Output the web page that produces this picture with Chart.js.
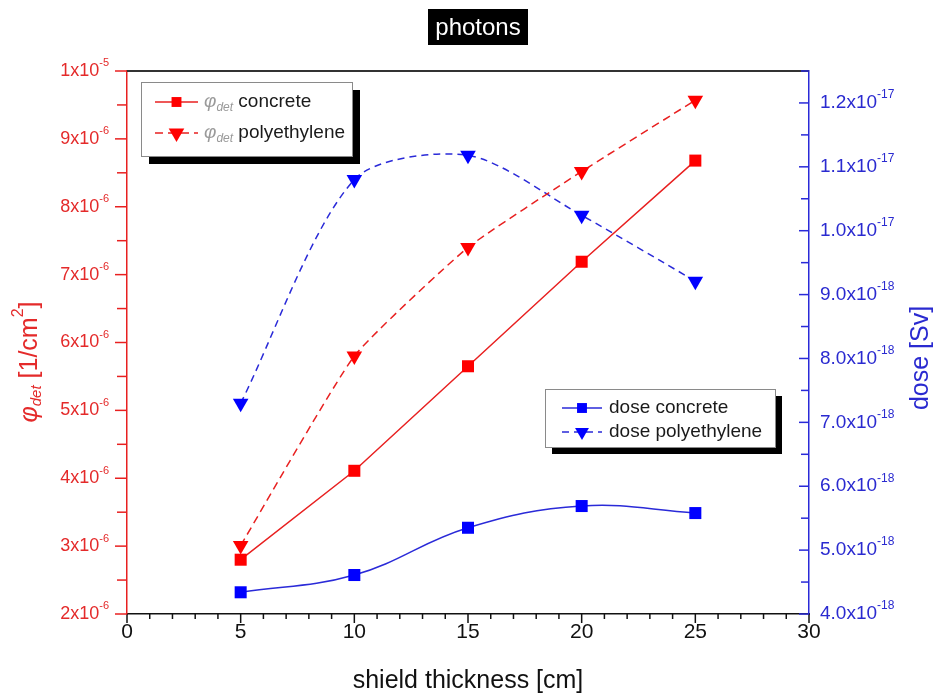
<!DOCTYPE html>
<html>
<head>
<meta charset="utf-8">
<title>photons</title>
<script src="https://cdn.jsdelivr.net/npm/chart.js@4.4.1/dist/chart.umd.min.js"></script>
<style>
  html, body { margin: 0; padding: 0; background: #fff; }
  canvas { display: block; }
</style>
</head>
<body>
<canvas id="myChart" width="939" height="695"></canvas>
<script>
// shield thickness [cm]
const thickness = [5, 10, 15, 20, 25];
// fluence at the detector, units of 1e-6 1/cm^2
const phiConcrete = [2.80, 4.11, 5.65, 7.19, 8.68];
const phiPolyethylene = [3.01, 5.80, 7.40, 8.52, 9.57];
// dose, units of 1e-18 Sv
const doseConcrete = [4.34, 4.61, 5.35, 5.69, 5.58];
const dosePolyethylene = [7.30, 10.80, 11.18, 10.24, 9.21];

// axis ticks (same units as above)
const phiTicks = [2, 3, 4, 5, 6, 7, 8, 9, 10];
const phiTickLabels = ['2x10^-6', '3x10^-6', '4x10^-6', '5x10^-6', '6x10^-6', '7x10^-6', '8x10^-6', '9x10^-6', '1x10^-5'];
const doseTicks = [4, 5, 6, 7, 8, 9, 10, 11, 12];
const doseTickLabels = ['4.0x10^-18', '5.0x10^-18', '6.0x10^-18', '7.0x10^-18', '8.0x10^-18', '9.0x10^-18', '1.0x10^-17', '1.1x10^-17', '1.2x10^-17'];

const FONT = '"Liberation Sans", Arial, sans-serif';
const RED = '#ff0000';
const RED_LINE = '#e82020';
const RED_TEXT = '#e42a2a';
const BLUE = '#0000ff';
const BLUE_LINE = '#2a2ad8';
const BLUE_TEXT = '#2a2ad0';

function toPoints(ys) {
  return thickness.map((x, i) => ({ x: x, y: ys[i] }));
}

function line(ctx, x1, y1, x2, y2) {
  ctx.beginPath();
  ctx.moveTo(x1, y1);
  ctx.lineTo(x2, y2);
  ctx.stroke();
}

function marker(ctx, style, x, y, r, color) {
  ctx.fillStyle = color;
  ctx.beginPath();
  if (style === 'rect') {
    const s = r * Math.SQRT1_2;
    ctx.rect(x - s, y - s, 2 * s, 2 * s);
  } else {
    ctx.moveTo(x - r * 0.866, y - r / 2);
    ctx.lineTo(x + r * 0.866, y - r / 2);
    ctx.lineTo(x, y + r);
    ctx.closePath();
  }
  ctx.fill();
}

// text made of pieces with their own size / italic / vertical shift
function richWidth(ctx, parts) {
  let w = 0;
  parts.forEach(p => {
    ctx.font = (p.italic ? 'italic ' : '') + p.size + 'px ' + FONT;
    w += ctx.measureText(p.t).width;
  });
  return w;
}

function drawRich(ctx, parts, x, y, color) {
  ctx.textAlign = 'left';
  ctx.textBaseline = 'middle';
  parts.forEach(p => {
    ctx.font = (p.italic ? 'italic ' : '') + p.size + 'px ' + FONT;
    ctx.fillStyle = p.color || color;
    ctx.fillText(p.t, x, y + (p.dy || 0));
    x += ctx.measureText(p.t).width;
  });
}

function powerParts(label, size) {
  const [base, exp] = label.split('^');
  return [{ t: base, size: size }, { t: exp, size: Math.round(size * 0.62), dy: -size * 0.42 }];
}

function drawLegend(ctx, chart, box, rows) {
  ctx.fillStyle = '#000';
  ctx.fillRect(box.x + box.shadow, box.y + box.shadow, box.w, box.h);
  ctx.fillStyle = '#fff';
  ctx.fillRect(box.x, box.y, box.w, box.h);
  ctx.strokeStyle = '#8a8a8a';
  ctx.lineWidth = 1;
  ctx.strokeRect(box.x + 0.5, box.y + 0.5, box.w, box.h);
  rows.forEach(row => {
    const ds = chart.data.datasets[row.dataset];
    ctx.strokeStyle = ds.borderColor;
    ctx.lineWidth = 1.5;
    ctx.setLineDash(ds.borderDash || []);
    line(ctx, row.x1, row.y, row.x2, row.y);
    ctx.setLineDash([]);
    marker(ctx, ds.pointStyle, (row.x1 + row.x2) / 2, row.y, row.r, ds.pointBackgroundColor);
    drawRich(ctx, row.text, row.tx, row.y, '#1a1a1a');
  });
}

const decor = {
  id: 'decor',
  afterDraw(chart) {
    const ctx = chart.ctx;
    const a = chart.chartArea;
    const x = chart.scales.x;
    const yPhi = chart.scales.yPhi;
    const yDose = chart.scales.yDose;
    ctx.save();

    // top frame
    ctx.strokeStyle = '#333';
    ctx.lineWidth = 2;
    line(ctx, a.left, a.top, a.right, a.top);

    // x ticks, major every 5, minor every 1
    ctx.strokeStyle = '#111';
    ctx.lineWidth = 1.5;
    for (let v = x.min; v <= x.max; v++) {
      const px = x.getPixelForValue(v);
      line(ctx, px, a.bottom, px, a.bottom + (v % 5 ? 5 : 9));
    }

    // left axis ticks and labels
    ctx.strokeStyle = RED_LINE;
    for (let v = yPhi.min; v <= yPhi.max + 1e-9; v += 0.5) {
      const py = yPhi.getPixelForValue(v);
      line(ctx, a.left - (v % 1 ? 10 : 12), py, a.left, py);
    }
    phiTicks.forEach((v, i) => {
      const parts = powerParts(phiTickLabels[i], 18);
      const w = richWidth(ctx, parts);
      drawRich(ctx, parts, a.left - 18 - w, yPhi.getPixelForValue(v), RED_TEXT);
    });

    // right axis ticks (inward) and labels
    ctx.strokeStyle = BLUE_LINE;
    for (let v = yDose.min; v <= yDose.max + 1e-9; v += 0.5) {
      const py = yDose.getPixelForValue(v);
      line(ctx, a.right - (v % 1 ? 8 : 10), py, a.right, py);
    }
    doseTicks.forEach((v, i) => {
      drawRich(ctx, powerParts(doseTickLabels[i], 19), a.right + 11, yDose.getPixelForValue(v), BLUE_TEXT);
    });

    // axis titles, both reading bottom to top
    const phiTitle = [
      { t: '\u03c6', size: 25, italic: true },
      { t: 'det', size: 15, italic: true, dy: 7 },
      { t: ' [1/cm', size: 25 },
      { t: '2', size: 16, dy: -11 },
      { t: ']', size: 25 }
    ];
    ctx.save();
    ctx.translate(30, 362);
    ctx.rotate(-Math.PI / 2);
    drawRich(ctx, phiTitle, -richWidth(ctx, phiTitle) / 2, 0, RED_TEXT);
    ctx.restore();

    const doseTitle = [{ t: 'dose [Sv]', size: 25 }];
    ctx.save();
    ctx.translate(921, 358);
    ctx.rotate(-Math.PI / 2);
    drawRich(ctx, doseTitle, -richWidth(ctx, doseTitle) / 2, 0, BLUE_TEXT);
    ctx.restore();

    // x axis title
    ctx.fillStyle = '#111';
    ctx.font = '25px ' + FONT;
    ctx.textAlign = 'center';
    ctx.textBaseline = 'middle';
    ctx.fillText('shield thickness [cm]', 468, 681);

    // title
    ctx.fillStyle = '#000';
    ctx.fillRect(428, 9, 100, 36);
    ctx.fillStyle = '#fff';
    ctx.font = '24px ' + FONT;
    ctx.fillText('photons', 478, 28);

    // legends
    const phiSub = (name) => [
      { t: '\u03c6', size: 19, italic: true, color: '#9a9a9a' },
      { t: 'det', size: 12, italic: true, dy: 6, color: '#9a9a9a' },
      { t: ' ' + name, size: 19 }
    ];
    drawLegend(ctx, chart, { x: 141, y: 82, w: 211, h: 74, shadow: 8 }, [
      { dataset: 0, x1: 155, x2: 198, y: 102, r: 7, tx: 204, text: phiSub('concrete') },
      { dataset: 1, x1: 155, x2: 198, y: 133, r: 9, tx: 204, text: phiSub('polyethylene') }
    ]);
    drawLegend(ctx, chart, { x: 545, y: 389, w: 230, h: 58, shadow: 7 }, [
      { dataset: 2, x1: 562, x2: 602, y: 408, r: 7, tx: 609, text: [{ t: 'dose concrete', size: 19 }] },
      { dataset: 3, x1: 562, x2: 602, y: 432, r: 8, tx: 609, text: [{ t: 'dose polyethylene', size: 19 }] }
    ]);

    ctx.restore();
  }
};

const ctx = document.getElementById('myChart').getContext('2d');
const chart = new Chart(ctx, {
  type: 'line',
  data: {
    datasets: [
      {
        label: 'phi_det concrete',
        data: toPoints(phiConcrete),
        yAxisID: 'yPhi',
        borderColor: RED_LINE,
        borderWidth: 1.5,
        pointStyle: 'rect',
        pointRadius: 8.5,
        pointBackgroundColor: RED,
        pointBorderWidth: 0,
        tension: 0
      },
      {
        label: 'phi_det polyethylene',
        data: toPoints(phiPolyethylene),
        yAxisID: 'yPhi',
        borderColor: RED_LINE,
        borderWidth: 1.5,
        borderDash: [8, 5],
        pointStyle: 'triangle',
        pointRotation: 180,
        pointRadius: 9,
        pointBackgroundColor: RED,
        pointBorderWidth: 0,
        tension: 0.15
      },
      {
        label: 'dose concrete',
        data: toPoints(doseConcrete),
        yAxisID: 'yDose',
        borderColor: BLUE_LINE,
        borderWidth: 1.5,
        pointStyle: 'rect',
        pointRadius: 8.5,
        pointBackgroundColor: BLUE,
        pointBorderWidth: 0,
        tension: 0.4
      },
      {
        label: 'dose polyethylene',
        data: toPoints(dosePolyethylene),
        yAxisID: 'yDose',
        borderColor: BLUE_LINE,
        borderWidth: 1.5,
        borderDash: [7, 5],
        pointStyle: 'triangle',
        pointRotation: 180,
        pointRadius: 9,
        pointBackgroundColor: BLUE,
        pointBorderWidth: 0,
        tension: 0.28
      }
    ]
  },
  options: {
    responsive: false,
    animation: false,
    layout: { padding: { top: 71, left: 0, right: 0, bottom: 0 } },
    plugins: {
      legend: { display: false },
      tooltip: { enabled: false }
    },
    scales: {
      x: {
        type: 'linear',
        min: 0,
        max: 30,
        ticks: {
          stepSize: 5,
          padding: 6,
          color: '#111',
          font: { family: FONT, size: 21 }
        },
        grid: { display: false, drawTicks: false },
        border: { color: '#111', width: 1.5 },
        afterFit: (scale) => { scale.height = 81; }
      },
      yPhi: {
        type: 'linear',
        position: 'left',
        min: 2,
        max: 10,
        ticks: { display: false },
        grid: { display: false, drawTicks: false },
        border: { color: RED_LINE, width: 1.5 },
        afterFit: (scale) => { scale.width = 127; }
      },
      yDose: {
        type: 'linear',
        position: 'right',
        min: 4,
        max: 12.5,
        ticks: { display: false },
        grid: { display: false, drawTicks: false },
        border: { color: BLUE_LINE, width: 1.5 },
        afterFit: (scale) => { scale.width = 130; }
      }
    }
  },
  plugins: [decor]
});
</script>
</body>
</html>
